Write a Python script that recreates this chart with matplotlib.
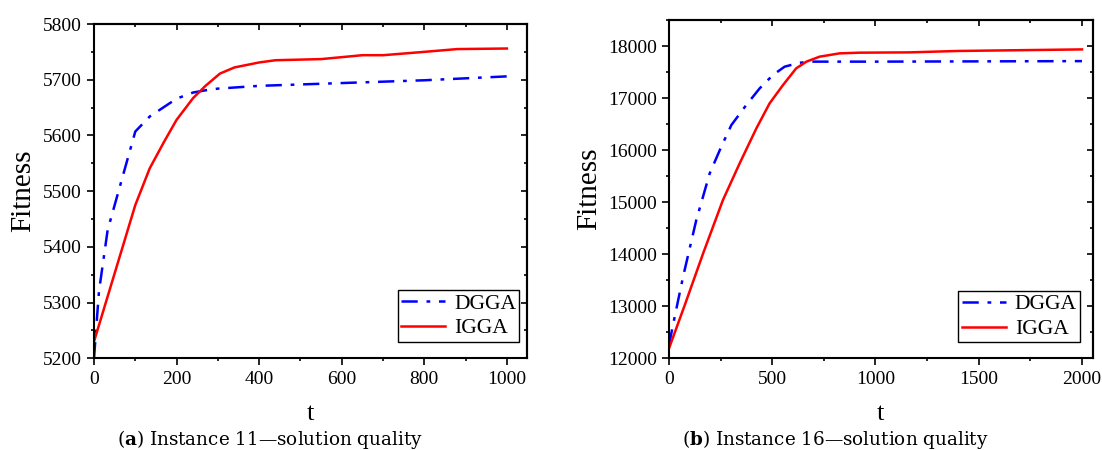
import matplotlib
matplotlib.use('Agg')
import matplotlib.pyplot as plt
from matplotlib.ticker import MultipleLocator, NullFormatter

plt.rcParams['font.family'] = 'Liberation Serif'
plt.rcParams['mathtext.fontset'] = 'custom'
plt.rcParams['mathtext.rm'] = 'DejaVu Serif'
plt.rcParams['mathtext.bf'] = 'DejaVu Serif:bold'

# instance 11
t11_dgga = [0, 12, 33, 100, 135, 200, 240, 270, 300, 400, 600, 800, 1000]
f11_dgga = [5200, 5320, 5430, 5607, 5634, 5666, 5677, 5681, 5684, 5689, 5694, 5699, 5706]
t11_igga = [0, 100, 135, 170, 200, 240, 270, 305, 340, 400, 440, 550, 650,
            700, 800, 880, 1000]
f11_igga = [5230, 5475, 5541, 5589, 5628, 5667, 5689, 5711, 5722, 5731, 5735,
            5737, 5744, 5744, 5750, 5755, 5756]

# instance 16
t16_dgga = [0, 19, 68, 132, 197, 253, 302, 374, 439, 503, 560, 632, 700,
            1000, 1500, 2000]
f16_dgga = [12250, 12635, 13564, 14654, 15551, 16064, 16481, 16865, 17186,
            17442, 17603, 17679, 17700, 17700, 17705, 17710]
t16_igga = [0, 76, 165, 261, 342, 423, 487, 552, 616, 665, 729, 826, 923,
            1165, 1400, 1700, 2000]
f16_igga = [12190, 13019, 14013, 15039, 15744, 16417, 16897, 17250, 17571,
            17699, 17795, 17859, 17872, 17878, 17905, 17920, 17935]

W, H = 1102, 450
fig = plt.figure(figsize=(W / 100, H / 100), dpi=100)

panels = [
    dict(rect=[94, 24, 526.7, 358.3], xlim=(0, 1048), ylim=(5200, 5800),
         xmaj=200, xmin=100, ymaj=100, ymin=50,
         dgga=(t11_dgga, f11_dgga), igga=(t11_igga, f11_igga),
         leg=(0.983, 0.0497), ylab_x=23,
         cap_x=117, cap=r'($\mathbf{a}$) Instance 11—solution quality'),
    dict(rect=[669, 20, 1092.7, 358.3], xlim=(0, 2052), ylim=(12000, 18500),
         xmaj=500, xmin=250, ymaj=1000, ymin=500,
         dgga=(t16_dgga, f16_dgga), igga=(t16_igga, f16_igga),
         leg=(0.970, 0.047), ylab_x=589,
         cap_x=682, cap=r'($\mathbf{b}$) Instance 16—solution quality'),
]

for p in panels:
    x0, y0, x1, y1 = p['rect']
    ax = fig.add_axes([x0 / W, 1 - y1 / H, (x1 - x0) / W, (y1 - y0) / H])
    ax.plot(*p['dgga'], color='#0000ff', lw=1.8, dashes=[6.5, 3.5, 1.5, 3.5],
            label='DGGA')
    ax.plot(*p['igga'], color='#ff0000', lw=1.8, label='IGGA')
    ax.set_xlim(*p['xlim'])
    ax.set_ylim(*p['ylim'])
    ax.xaxis.set_major_locator(MultipleLocator(p['xmaj']))
    ax.xaxis.set_minor_locator(MultipleLocator(p['xmin']))
    ax.yaxis.set_major_locator(MultipleLocator(p['ymaj']))
    ax.yaxis.set_minor_locator(MultipleLocator(p['ymin']))
    ax.tick_params(which='major', direction='out', length=4.8, width=1.2,
                   labelsize=14)
    ax.tick_params(which='minor', direction='out', length=2.5, width=1.2)
    ax.tick_params(axis='x', pad=4.5)
    ax.tick_params(axis='y', pad=4)
    for s in ax.spines.values():
        s.set_linewidth(1.5)

    secx = ax.secondary_xaxis('top')
    secx.xaxis.set_major_locator(MultipleLocator(p['xmaj']))
    secx.xaxis.set_minor_locator(MultipleLocator(p['xmin']))
    secx.xaxis.set_major_formatter(NullFormatter())
    secx.tick_params(which='major', direction='in', length=4.5, width=1.2)
    secx.tick_params(which='minor', direction='in', length=2.5, width=1.2)
    secx.spines['top'].set_linewidth(1.5)
    secy = ax.secondary_yaxis('right')
    secy.yaxis.set_major_locator(MultipleLocator(p['ymaj']))
    secy.yaxis.set_minor_locator(MultipleLocator(p['ymin']))
    secy.yaxis.set_major_formatter(NullFormatter())
    secy.tick_params(which='major', direction='in', length=4.5, width=1.2)
    secy.tick_params(which='minor', direction='in', length=2.5, width=1.2)
    secy.spines['right'].set_linewidth(1.5)

    leg = ax.legend(loc='lower right', bbox_to_anchor=p['leg'],
                    borderaxespad=0, fontsize=15.5, fancybox=False,
                    edgecolor='black', framealpha=1, handlelength=2.05,
                    handletextpad=0.42, borderpad=0.15, labelspacing=0.22)
    leg.get_frame().set_linewidth(1.0)

    fig.text(p['ylab_x'] / W, 1 - (y0 + y1) / 2 / H, 'Fitness', rotation=90,
             ha='center', va='center', fontsize=21)
    fig.text((x0 + x1) / 2 / W, 1 - 420.5 / H, 't', ha='center',
             va='baseline', fontsize=19)
    fig.text(p['cap_x'] / W, 1 - 445 / H, p['cap'], ha='left',
             va='baseline', fontsize=13.2, family='DejaVu Serif')

fig.savefig('out.png', dpi=100)
